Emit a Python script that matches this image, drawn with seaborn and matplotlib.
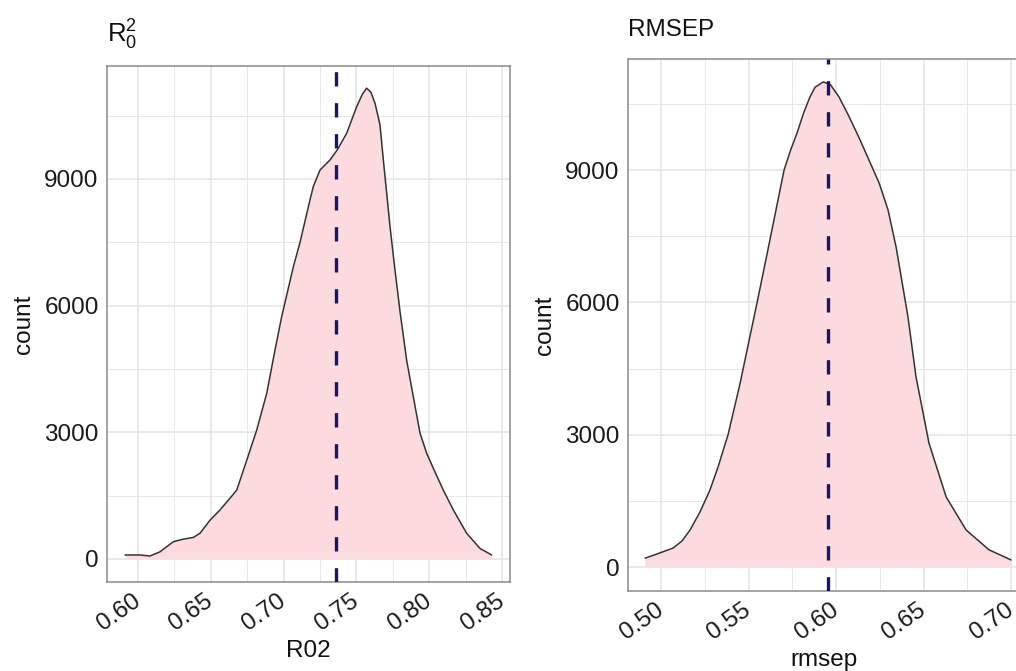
import matplotlib
matplotlib.use("Agg")
import matplotlib.pyplot as plt
import matplotlib.transforms as mtransforms
from matplotlib.ticker import MultipleLocator
import seaborn as sns
import pandas as pd

# Bootstrap distributions of the two validation statistics (density scaled to counts)
r02_x = [0.5911, 0.6014, 0.6082, 0.6151, 0.6243, 0.6311, 0.6380, 0.6426, 0.6495,
         0.6563, 0.6632, 0.6678, 0.6747, 0.6815, 0.6884, 0.6941, 0.6987, 0.7067,
         0.7113, 0.7181, 0.7204, 0.7250, 0.7319, 0.7369, 0.7433, 0.7502, 0.7540,
         0.7570, 0.7600, 0.7628, 0.7662, 0.7685, 0.7731, 0.7765, 0.7800, 0.7845,
         0.7891, 0.7937, 0.7983, 0.8028, 0.8097, 0.8166, 0.8257, 0.8349, 0.8429]
r02_count = [95, 95, 70, 170, 410, 470, 510, 610, 920,
             1160, 1440, 1630, 2340, 3050, 3920, 4950, 5740, 6920,
             7500, 8500, 8820, 9210, 9450, 9690, 10080, 10710, 11000,
             11150, 11050, 10790, 10280, 9450, 7870, 6840, 5850, 4710,
             3840, 2980, 2500, 2150, 1630, 1160, 610, 250, 95]
r02_mean = 0.736

rmsep_x = [0.4909, 0.4994, 0.5069, 0.5120, 0.5166, 0.5223, 0.5280, 0.5326, 0.5383,
           0.5451, 0.5549, 0.5606, 0.5703, 0.5740, 0.5777, 0.5815, 0.5851, 0.5880,
           0.5926, 0.5966, 0.6017, 0.6070, 0.6130, 0.6246, 0.6297, 0.6343, 0.6411,
           0.6457, 0.6531, 0.6629, 0.6743, 0.6874, 0.7000]
rmsep_count = [200, 320, 430, 590, 840, 1250, 1750, 2270, 3000,
               4150, 6000, 7100, 9000, 9450, 9840, 10300, 10660, 10880,
               11000, 10950, 10660, 10250, 9750, 8710, 8100, 7260, 5670,
               4310, 2810, 1590, 840, 390, 160]
rmsep_mean = 0.5954

x_ticks_r02 = [0.60, 0.65, 0.70, 0.75, 0.80, 0.85]
x_ticks_rmsep = [0.50, 0.55, 0.60, 0.65, 0.70]
y_ticks = [0, 3000, 6000, 9000]

sns.set_theme(style="white")
plt.rcParams["font.family"] = ["Liberation Sans", "DejaVu Sans"]
plt.rcParams["mathtext.fontset"] = "custom"
plt.rcParams["mathtext.rm"] = "Liberation Sans"

FILL = "#FBDBDD"
EDGE = "#333333"
VLINE = "#16166E"
GRID = "#E4E4E4"
BORDER = "#8A8A8A"
FS = 17.5

fig = plt.figure(figsize=(10.16, 6.71), dpi=100)
ax1 = fig.add_axes([107 / 1016, 1 - 582 / 671, 403 / 1016, 516 / 671])
ax2 = fig.add_axes([628 / 1016, 1 - 591 / 671, 392 / 1016, 532 / 671])

panels = [
    (ax1, r02_x, r02_count, r02_mean, x_ticks_r02, (0.5787, 0.8555), (-545, 11674),
     r"$\mathregular{R_0^2}$", "R02", 18.5),
    (ax2, rmsep_x, rmsep_count, rmsep_mean, x_ticks_rmsep, (0.48114, 0.7051), (-544, 11521),
     "RMSEP", "rmsep", FS),
]

for ax, xs, ys, mean, xticks, xlim, ylim, title, xlabel, tfs in panels:
    df = pd.DataFrame({"x": xs, "count": ys})
    ax.set_facecolor("white")
    ax.set_axisbelow(True)
    ax.fill_between(df["x"], 0, df["count"], color=FILL, linewidth=0, zorder=2)
    sns.lineplot(data=df, x="x", y="count", ax=ax, color=EDGE, linewidth=1.1,
                 sort=False, zorder=3)
    ax.axvline(mean, color=VLINE, linewidth=2.4, linestyle=(0, (4.3, 5.0)), zorder=4)

    ax.set_xlim(*xlim)
    ax.set_ylim(*ylim)
    ax.set_xticks(xticks)
    ax.set_yticks(y_ticks)
    ax.xaxis.set_minor_locator(MultipleLocator(0.025))
    ax.yaxis.set_minor_locator(MultipleLocator(1500))
    ax.grid(which="major", color=GRID, linewidth=1.1)
    ax.grid(which="minor", color=GRID, linewidth=0.6)
    ax.tick_params(which="minor", length=0)
    ax.tick_params(which="major", length=4, width=1.0, color=BORDER,
                   labelsize=FS, labelcolor="#1A1A1A", pad=2)
    ax.set_xticklabels([f"{t:.2f}" for t in xticks], rotation=35,
                       ha="right", va="center", rotation_mode="anchor")
    offset = mtransforms.ScaledTranslation(0, -9 / 100, fig.dpi_scale_trans)
    for lab in ax.get_xticklabels():
        lab.set_transform(lab.get_transform() + offset)
    ax.set_yticklabels([str(t) for t in y_ticks])
    for sp in ax.spines.values():
        sp.set_color(BORDER)
        sp.set_linewidth(1.1)
    ax.set_title(title, loc="left", fontsize=tfs, pad=16.5, color="#111111")
    ax.set_xlabel(xlabel, fontsize=FS, color="#111111", labelpad=3)
    ax.set_ylabel("count", fontsize=FS, color="#111111", labelpad=7)

fig.savefig("out.png", dpi=100)
